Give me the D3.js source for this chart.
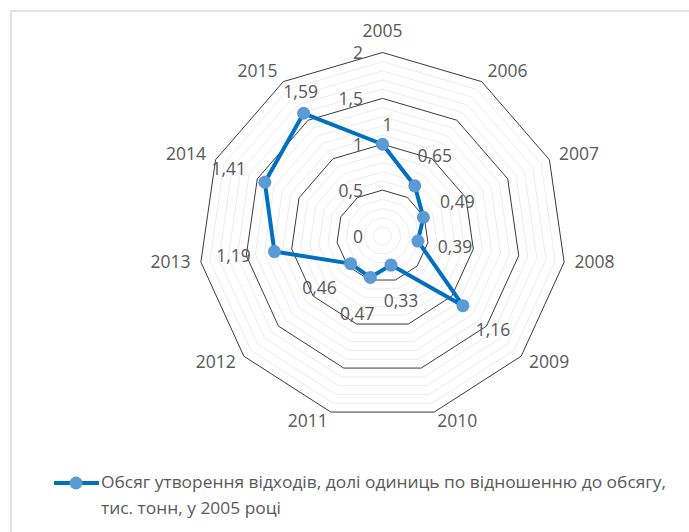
<!DOCTYPE html>
<html>
<head>
<meta charset="utf-8">
<script src="https://cdn.jsdelivr.net/npm/d3@7/dist/d3.min.js"></script>
<style>
  html, body { margin: 0; padding: 0; background: #fff; }
  svg { display: block; }
  text { font-family: "Open Sans", "Liberation Sans", sans-serif; fill: #595959; }
</style>
</head>
<body>
<svg id="chart" width="689" height="532"></svg>
<script>
// ---- data ----
const categories = ["2005","2006","2007","2008","2009","2010","2011","2012","2013","2014","2015"];
const values = [1, 0.65, 0.49, 0.39, 1.16, 0.33, 0.47, 0.46, 1.19, 1.41, 1.59];
const valueLabels = ["1","0,65","0,49","0,39","1,16","0,33","0,47","0,46","1,19","1,41","1,59"];
const majorTicks = [0, 0.5, 1, 1.5, 2];
const tickLabels = ["0","0,5","1","1,5","2"];
const minorTicks = d3.range(1, 20).map(i => i / 10);
const seriesName1 = "Обсяг утворення відходів, долі одиниць по відношенню до обсягу,";
const seriesName2 = "тис. тонн, у 2005 році";

// ---- layout (label offsets from points, px) ----
const labelOffsets = [[5,-18],[20,-29],[34,-14],[37,7],[30,26],[10,37],[-13,38],[-31,26],[-41,6],[-36,-12],[-3,-20]];

const svg = d3.select("#chart");
const cx = 382.5, cy = 236, R = 183.5;

// frame
svg.append("rect").attr("x", 11).attr("y", 11).attr("width", 720).attr("height", 600)
  .attr("fill", "none").attr("stroke", "#d9d9d9").attr("stroke-width", 1.5);

const n = categories.length;
const angle = d3.scaleLinear().domain([0, n]).range([0, 2 * Math.PI]);
const r = d3.scaleLinear().domain([0, 2]).range([0, R]);

function pt(i, v) {
  const a = angle(i);
  return [cx + r(v) * Math.sin(a), cy - r(v) * Math.cos(a)];
}
const ringLine = d3.line().curve(d3.curveLinearClosed);

// minor rings
svg.append("g").selectAll("path").data(minorTicks.filter(t => Math.abs(t * 2 - Math.round(t * 2)) > 1e-6))
  .join("path")
  .attr("d", t => ringLine(d3.range(n).map(i => pt(i, t))))
  .attr("fill", "none").attr("stroke", "#ececec").attr("stroke-width", 1);

// major rings
svg.append("g").selectAll("path").data(majorTicks.filter(t => t > 0))
  .join("path")
  .attr("d", t => ringLine(d3.range(n).map(i => pt(i, t))))
  .attr("fill", "none").attr("stroke", "#3a3a3a").attr("stroke-width", 1);

const fs = 17.5;

// tick labels
svg.append("g").selectAll("text").data(majorTicks)
  .join("text")
  .attr("x", 363)
  .attr("y", (t) => cy - r(t) + 2)
  .attr("text-anchor", "end")
  .attr("dominant-baseline", "middle")
  .attr("font-size", fs)
  .text((t, i) => tickLabels[i]);

// category labels
const RL = 194;
svg.append("g").selectAll("text").data(categories)
  .join("text")
  .each(function(c, i) {
    const a = angle(i);
    const s = Math.sin(a), co = Math.cos(a);
    let x = cx + RL * s, y = cy - RL * co;
    let anchor = "middle";
    if (s > 0.05) anchor = "start";
    else if (s < -0.05) anchor = "end";
    else y -= 10 * Math.sign(co);
    d3.select(this).attr("x", x).attr("y", y)
      .attr("text-anchor", anchor).attr("dominant-baseline", "middle")
      .attr("font-size", fs).text(c);
  });

// series line
const pts = values.map((v, i) => pt(i, v));
svg.append("path")
  .attr("d", ringLine(pts))
  .attr("fill", "none").attr("stroke", "#0070C0").attr("stroke-width", 4)
  .attr("stroke-linejoin", "round");

// markers
svg.append("g").selectAll("circle").data(pts)
  .join("circle")
  .attr("cx", d => d[0]).attr("cy", d => d[1]).attr("r", 6.5)
  .attr("fill", "#5B9BD5");

// data labels
svg.append("g").selectAll("text").data(values)
  .join("text")
  .attr("x", (v, i) => pt(i, v)[0] + labelOffsets[i][0])
  .attr("y", (v, i) => pt(i, v)[1] + labelOffsets[i][1])
  .attr("text-anchor", "middle")
  .attr("dominant-baseline", "middle")
  .attr("font-size", fs)
  .text((v, i) => valueLabels[i]);

// legend
const lg = svg.append("g");
lg.append("line").attr("x1", 54).attr("x2", 99).attr("y1", 483).attr("y2", 483)
  .attr("stroke", "#0070C0").attr("stroke-width", 4);
lg.append("circle").attr("cx", 76).attr("cy", 483).attr("r", 6.5).attr("fill", "#5B9BD5");
const t1 = lg.append("text").attr("x", 101).attr("y", 483).attr("dominant-baseline", "middle")
  .attr("font-size", 17).text(seriesName1);
const t2 = lg.append("text").attr("x", 101).attr("y", 509).attr("dominant-baseline", "middle")
  .attr("font-size", 17).text(seriesName2);
const target = 565;
const w1 = t1.node().getComputedTextLength();
const k = target / w1;
t1.attr("textLength", target).attr("lengthAdjust", "spacingAndGlyphs");
t2.attr("textLength", t2.node().getComputedTextLength() * k).attr("lengthAdjust", "spacingAndGlyphs");
</script>
</body>
</html>
